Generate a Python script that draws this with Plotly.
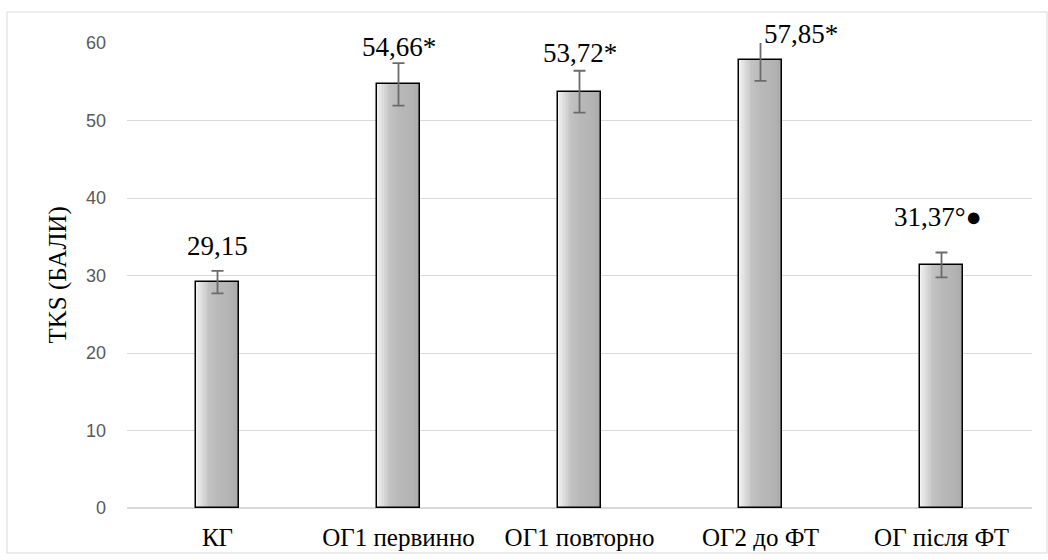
import plotly.graph_objects as go

# Data
categories = ["КГ", "ОГ1 первинно", "ОГ1 повторно", "ОГ2 до ФТ", "ОГ після ФТ"]
values = [29.15, 54.66, 53.72, 57.85, 31.37]
errors = [1.45, 2.75, 2.7, 2.75, 1.6]
label_texts = ["29,15", "54,66*", "53,72*", "57,85*", "31,37°●"]

# Label placement (pixels relative to bar top)
label_dx = [0, 0, 0, 40, -4]
label_dy = [36, 37, 39, 26, 48]

SERIF = "Liberation Serif"
SANS = "Liberation Sans"

BAR_W = 0.238
N_SLICES = 30

def slice_color(t):
    # horizontal grey gradient: light left edge -> mid grey -> slightly darker right
    stops = [(0.0, 245), (0.12, 225), (0.3, 195), (0.5, 185), (0.8, 180), (1.0, 170)]
    for (t0, c0), (t1, c1) in zip(stops[:-1], stops[1:]):
        if t0 <= t <= t1:
            c = c0 + (c1 - c0) * (t - t0) / (t1 - t0)
            break
    c = int(round(c))
    return f"rgb({c},{c},{c})"

fig = go.Figure()

sw = BAR_W / N_SLICES
for i in range(N_SLICES):
    t = (i + 0.5) / N_SLICES
    fig.add_trace(go.Bar(
        x=categories, y=values,
        width=sw * 1.08, offset=-BAR_W / 2 + i * sw,
        marker=dict(color=slice_color(t), line=dict(width=0)),
        showlegend=False, hoverinfo="skip",
    ))

# Outline with error bars
fig.add_trace(go.Bar(
    x=categories, y=values,
    width=BAR_W, offset=-BAR_W / 2,
    marker=dict(color="rgba(0,0,0,0)", line=dict(color="black", width=1.5)),
    error_y=dict(type="data", array=errors, visible=True,
                 color="#6b6b6b", thickness=1.8, width=6),
    showlegend=False,
))

for cat, v, txt, dx, dy in zip(categories, values, label_texts, label_dx, label_dy):
    fig.add_annotation(
        x=cat, y=v, text=txt, showarrow=False,
        xanchor="center", yanchor="middle", xshift=dx, yshift=dy,
        font=dict(family=SERIF, size=27, color="black"),
        bgcolor="white" if txt.startswith("57") else "rgba(0,0,0,0)",
        borderpad=0,
    )

fig.add_annotation(
    x=0, y=0.5, xref="paper", yref="paper", text="TKS (БАЛИ)",
    showarrow=False, textangle=-90, xanchor="center", yanchor="middle",
    xshift=-70, font=dict(family=SERIF, size=25, color="#000000"),
)

# Chart frame
L, R, T, B = 127, 1032, 43, 508
def px_x(p):
    return (p - L) / (R - L)
def px_y(p):
    return (B - p) / (B - T)

fig.add_shape(type="rect", xref="paper", yref="paper",
              x0=px_x(7), x1=px_x(1047), y0=px_y(553), y1=px_y(12),
              line=dict(color="#d9d9d9", width=1), fillcolor="rgba(0,0,0,0)",
              layer="below")

fig.update_layout(
    width=1048, height=560,
    margin=dict(l=L, r=1048 - R, t=T, b=560 - B),
    paper_bgcolor="white", plot_bgcolor="white",
    barmode="overlay", bargap=0,
)

fig.update_yaxes(
    range=[0, 60], tickvals=[0, 10, 20, 30, 40, 50, 60],
    showgrid=True, gridcolor="#d9d9d9", gridwidth=1,
    zeroline=True, zerolinecolor="#d9d9d9", zerolinewidth=1.5,
    showline=False, ticks="", automargin=False,
    tickfont=dict(family=SANS, size=18, color="#595959"),
    ticklabelstandoff=20,
)
fig.update_xaxes(
    showgrid=False, showline=False, ticks="", automargin=False,
    tickfont=dict(family=SERIF, size=25, color="black"),
    ticklabelstandoff=12,
)

fig.write_html("out.html")
